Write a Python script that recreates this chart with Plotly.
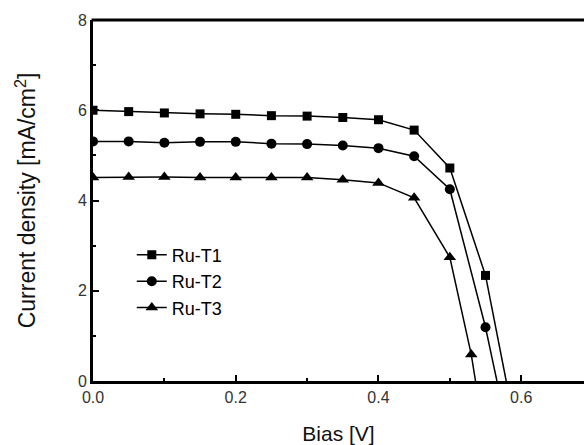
import plotly.graph_objects as go

bias = [0.0, 0.05, 0.10, 0.15, 0.20, 0.25, 0.30, 0.35, 0.40, 0.45, 0.50, 0.55]
ru_t1 = [6.00, 5.97, 5.94, 5.92, 5.91, 5.88, 5.87, 5.84, 5.79, 5.56, 4.72, 2.34]
ru_t2 = [5.31, 5.31, 5.28, 5.30, 5.30, 5.26, 5.25, 5.22, 5.16, 4.98, 4.25, 1.19]
bias_t3 = [0.0, 0.05, 0.10, 0.15, 0.20, 0.25, 0.30, 0.35, 0.40, 0.45, 0.50, 0.53]
ru_t3 = [4.51, 4.52, 4.52, 4.51, 4.51, 4.51, 4.51, 4.46, 4.39, 4.06, 2.74, 0.59]
# open-circuit voltages (J = 0)
voc = [0.579, 0.566, 0.536]

names = ["Ru-T1", "Ru-T2", "Ru-T3"]
symbols = ["square", "circle", "triangle-up"]
sizes = [9, 10, 11]
xs = [bias, bias, bias_t3]
ys = [ru_t1, ru_t2, ru_t3]

fig = go.Figure()
for i in range(3):
    fig.add_trace(go.Scatter(
        x=[xs[i][-1], voc[i]], y=[ys[i][-1], 0], mode="lines",
        line=dict(color="black", width=1.5), showlegend=False, hoverinfo="skip"))
    fig.add_trace(go.Scatter(
        x=xs[i], y=ys[i], mode="lines+markers", name=names[i],
        line=dict(color="black", width=1.5),
        marker=dict(symbol=symbols[i], size=sizes[i], color="black")))

# top frame line
fig.add_shape(type="line", xref="paper", yref="paper", x0=-0.003, x1=1.01,
              y0=1, y1=1, line=dict(color="black", width=3), layer="above")

tickfont = dict(family="Liberation Sans, Arial, sans-serif", size=16, color="#333")
fig.update_layout(
    width=584, height=445,
    margin=dict(l=93, r=0, t=20, b=64),
    paper_bgcolor="white", plot_bgcolor="white",
    font=dict(family="Liberation Sans, Arial, sans-serif", color="black"),
    showlegend=True,
    legend=dict(x=0.079, y=0.40, xanchor="left", yanchor="top",
                font=dict(size=18, color="black"), bgcolor="rgba(0,0,0,0)",
                tracegroupgap=0, itemwidth=30),
    xaxis=dict(range=[0, 0.688], showgrid=False, zeroline=False, automargin=False,
               showline=True, linewidth=3, linecolor="black", mirror=False,
               tickmode="array", tickvals=[0, 0.2, 0.4, 0.6],
               ticktext=["0.0", "0.2", "0.4", "0.6"],
               ticks="inside", ticklen=6, tickwidth=2, tickcolor="black",
               tickfont=tickfont,
               minor=dict(tickvals=[0.1, 0.3, 0.5], ticks="inside", ticklen=3,
                          tickwidth=2, tickcolor="black"),
               title=dict(text="Bias [V]", font=dict(size=21, color="#111"),
                          standoff=22)),
    yaxis=dict(range=[0, 8], showgrid=False, zeroline=False, automargin=False,
               showline=True, linewidth=3, linecolor="black", mirror=False,
               tickmode="array", tickvals=[0, 2, 4, 6, 8],
               ticks="inside", ticklen=6, tickwidth=2, tickcolor="black",
               tickfont=tickfont,
               minor=dict(tickvals=[1, 3, 5, 7], ticks="inside", ticklen=3,
                          tickwidth=2, tickcolor="black"),
               title=dict(text="Current density [mA/cm<sup>2</sup>]",
                          font=dict(size=23, color="#111"), standoff=36)),
)
fig.write_html("out.html", config={"displayModeBar": False},
               post_script="document.body.style.margin='0';"
                           "document.body.style.overflow='hidden';")
